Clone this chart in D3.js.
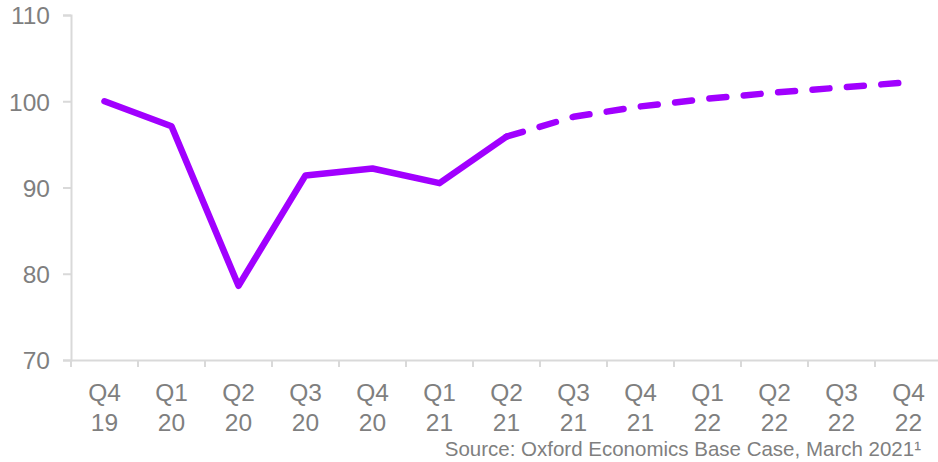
<!DOCTYPE html>
<html><head><meta charset="utf-8">
<script src="https://cdn.jsdelivr.net/npm/d3@7/dist/d3.min.js"></script>
<style>
html,body{margin:0;padding:0;background:#fff;}
svg{display:block;font-family:"Liberation Sans",Arial,sans-serif;}
</style></head>
<body>
<svg id="chart" width="938" height="462"></svg>
<script>
const quarters = ["Q4","Q1","Q2","Q3","Q4","Q1","Q2","Q3","Q4","Q1","Q2","Q3","Q4"];
const years    = ["19","20","20","20","20","21","21","21","21","22","22","22","22"];
const actual   = [100, 97.1, 78.6, 91.4, 92.2, 90.5, 95.9, null, null, null, null, null, null];
const forecast = [null, null, null, null, null, null, 95.9, 98.2, 99.4, 100.3, 101.0, 101.6, 102.2];
const yTicks   = [70, 80, 90, 100, 110];
const source   = "Source: Oxford Economics Base Case, March 2021\u00B9";

const labels = quarters.map((q,i)=>q+" "+years[i]);
const svg = d3.select("#chart");
const x = d3.scaleBand().domain(labels).range([71, 942]);
const y = d3.scaleLinear().domain([70,110]).range([360, 15]);
const grey = "#d9d9d9", txt = "#7f7f7f", purple = "#a100ff";

// y axis
const ya = svg.append("g").attr("transform","translate(71,0)")
  .call(d3.axisLeft(y).tickValues(yTicks).tickSize(8).tickPadding(13));
ya.select(".domain").attr("stroke",grey).attr("stroke-width",2);
ya.selectAll(".tick line").attr("stroke",grey).attr("stroke-width",2);
ya.selectAll(".tick text").attr("fill",txt).attr("font-size",24.5).attr("dy","0.36em");

// x axis
const xa = svg.append("g").attr("transform","translate(0,360)")
  .call(d3.axisBottom(x).tickSize(0).tickFormat(""));
xa.select(".domain").attr("stroke",grey).attr("stroke-width",2);
xa.selectAll(".tick").remove();
const bounds = labels.map(l=>x(l)).concat([x(labels[labels.length-1])+x.bandwidth()]);
svg.append("g").selectAll("line").data(bounds.filter(b=>b<938)).join("line")
  .attr("x1",d=>d).attr("x2",d=>d).attr("y1",360).attr("y2",367)
  .attr("stroke",grey).attr("stroke-width",2);
const lab = svg.append("g").selectAll("text").data(labels).join("text")
  .attr("x",d=>x(d)+x.bandwidth()/2).attr("text-anchor","middle")
  .attr("fill",txt).attr("font-size",24.5);
lab.append("tspan").attr("x",d=>x(d)+x.bandwidth()/2).attr("y",401).text((d,i)=>quarters[i]);
lab.append("tspan").attr("x",d=>x(d)+x.bandwidth()/2).attr("y",431).text((d,i)=>years[i]);

const line = d3.line().defined(d=>d.v!==null).x(d=>x(d.l)+x.bandwidth()/2).y(d=>y(d.v));
svg.append("path").datum(labels.map((l,i)=>({l,v:actual[i]})))
  .attr("d",line).attr("fill","none").attr("stroke",purple).attr("stroke-width",6.5)
  .attr("stroke-linejoin","round").attr("stroke-linecap","round");
svg.append("path").datum(labels.map((l,i)=>({l,v:forecast[i]})))
  .attr("d",line).attr("fill","none").attr("stroke",purple).attr("stroke-width",6.5)
  .attr("stroke-linejoin","round").attr("stroke-linecap","round")
  .attr("stroke-dasharray","17,17.5");

svg.append("text").attr("x",921).attr("y",456).attr("text-anchor","end")
  .attr("fill",txt).attr("font-size",20.5).text(source);
</script>
</body></html>
